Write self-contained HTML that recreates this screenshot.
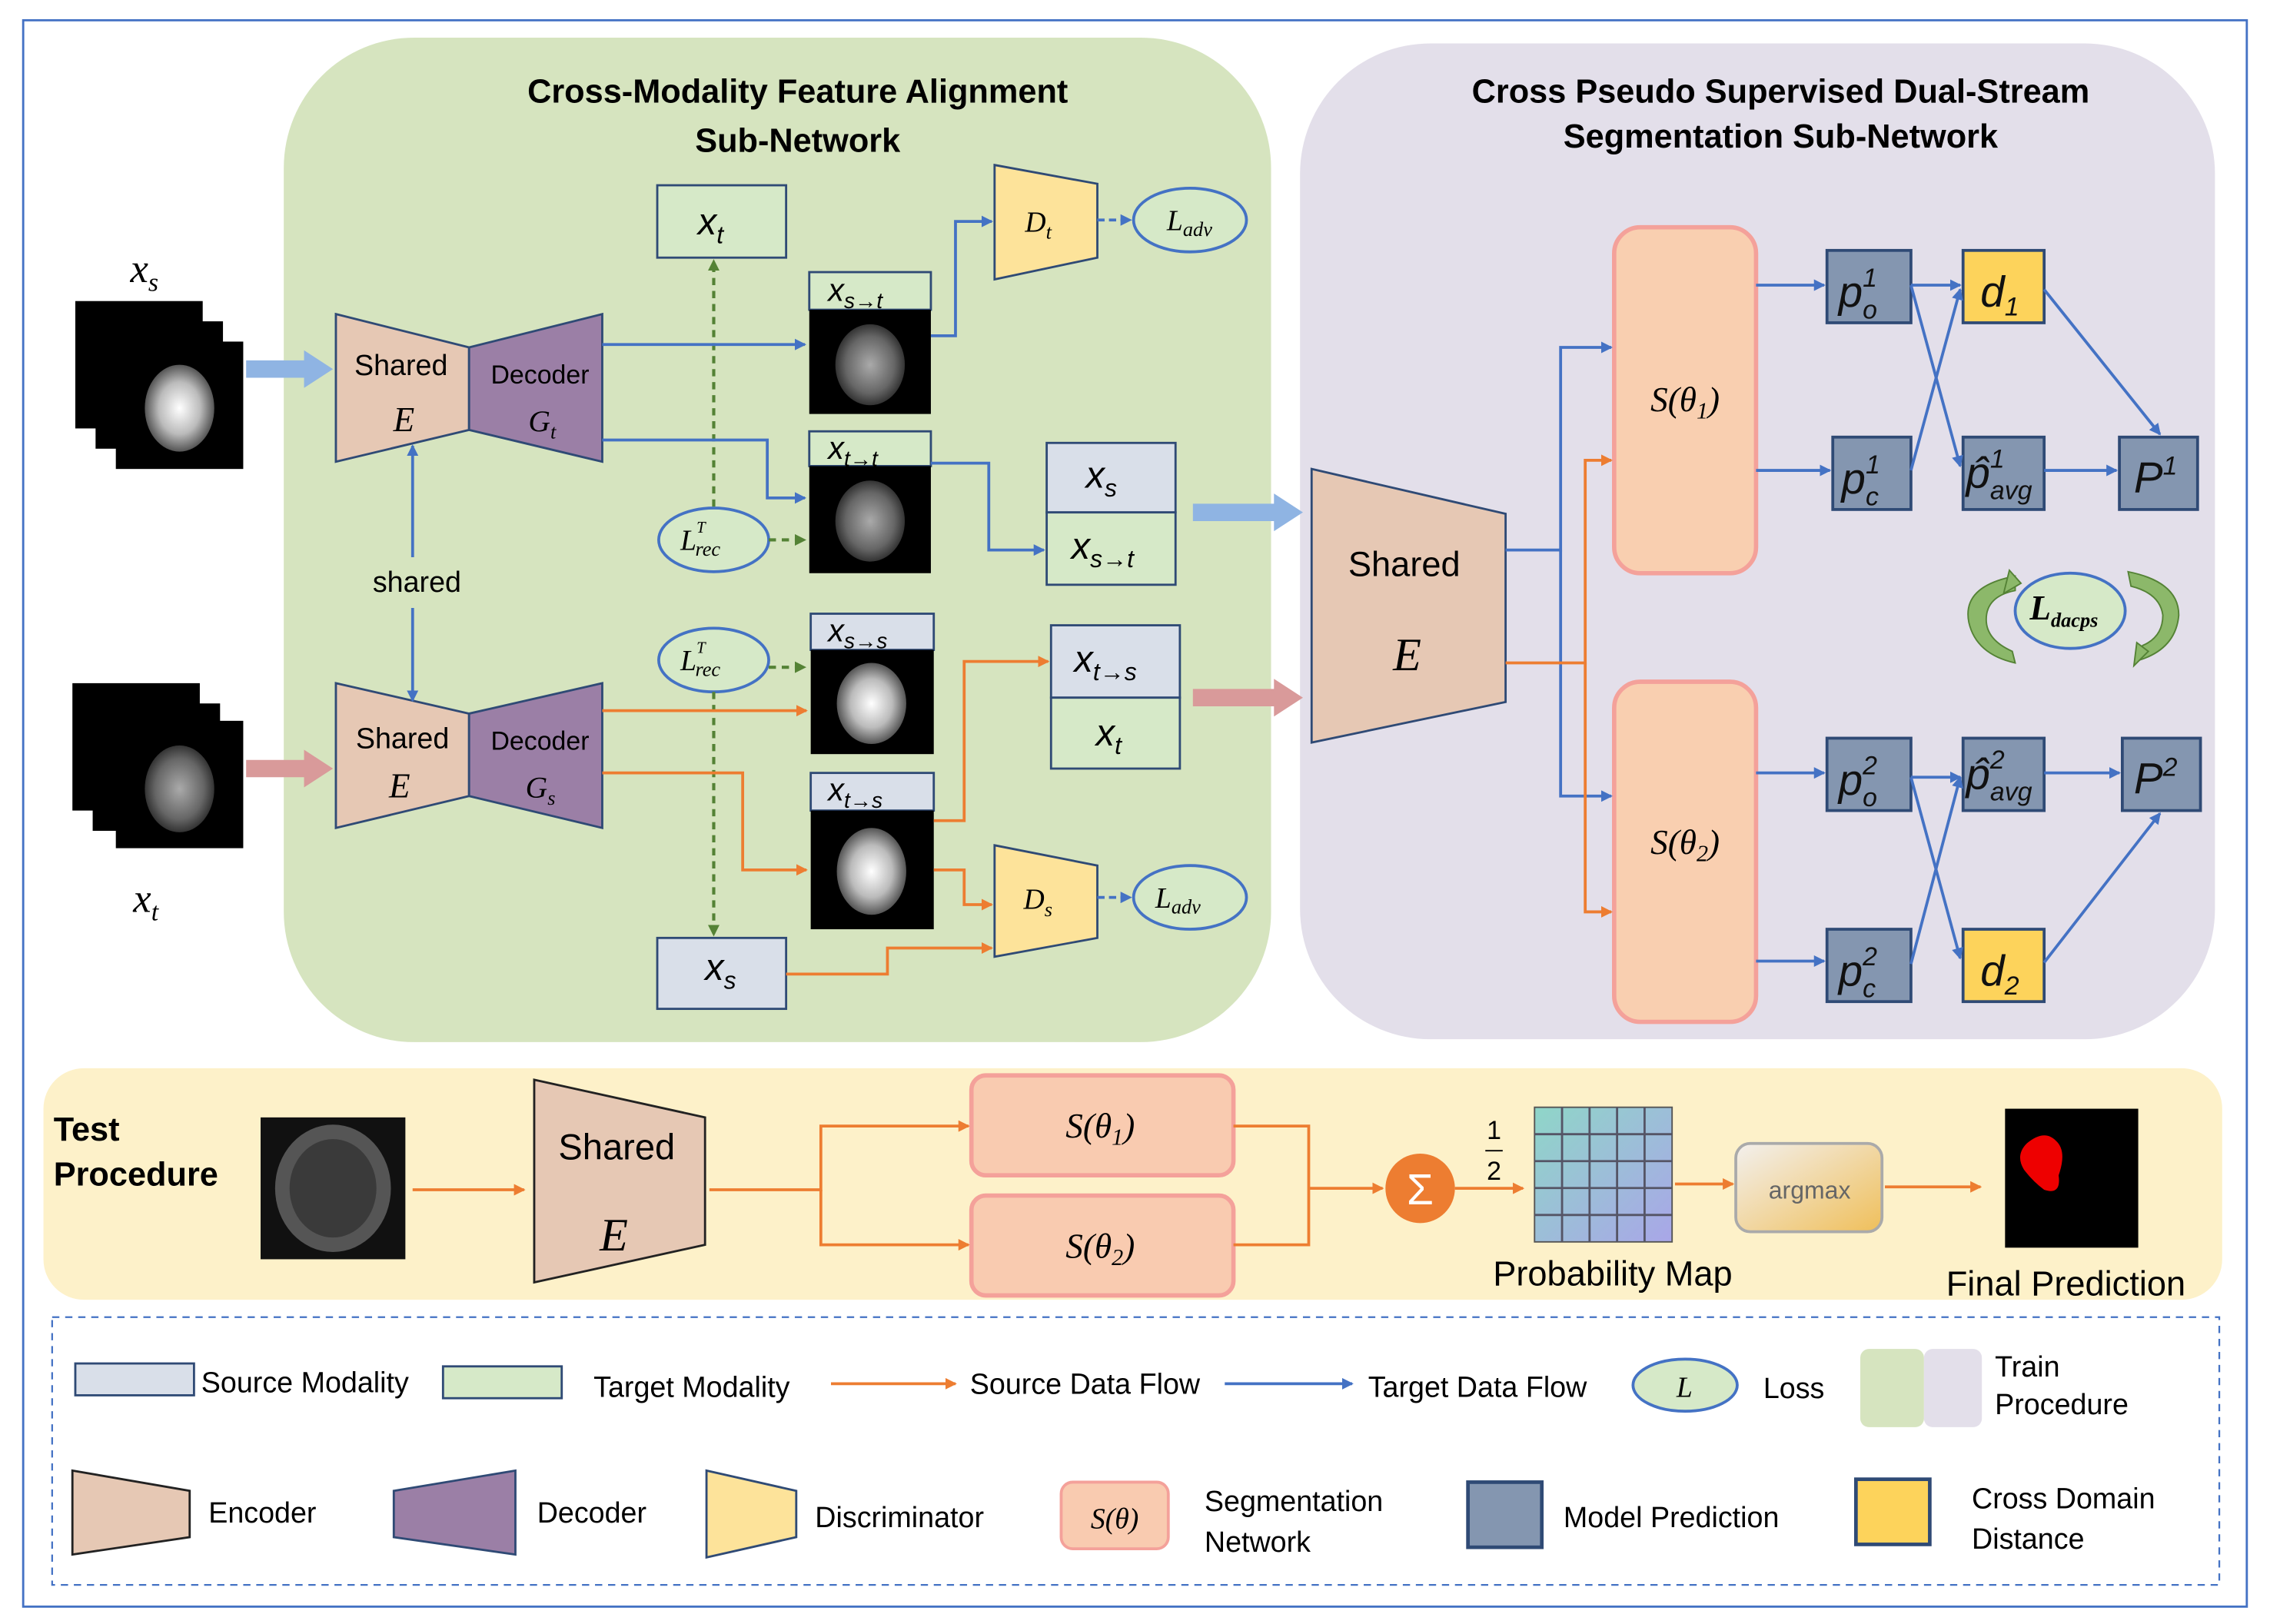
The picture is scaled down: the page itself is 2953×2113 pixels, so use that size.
<!DOCTYPE html>
<html><head><meta charset="utf-8"><style>
html,body{margin:0;padding:0;background:#fff}
svg{display:block}
text{font-family:"Liberation Sans",sans-serif}
.m{font-family:"Liberation Serif",serif;font-style:italic}
.b{font-weight:bold}
</style></head><body>
<svg width="2953" height="2113" viewBox="0 0 1568 1122" xmlns="http://www.w3.org/2000/svg">
<defs>
<marker id="ab" markerWidth="8" markerHeight="8" refX="7" refY="4" orient="auto" markerUnits="userSpaceOnUse"><path d="M0,0 L8,4 L0,8 z" fill="#4472c4"/></marker>
<marker id="ao" markerWidth="8" markerHeight="8" refX="7" refY="4" orient="auto" markerUnits="userSpaceOnUse"><path d="M0,0 L8,4 L0,8 z" fill="#ed7d31"/></marker>
<marker id="ag" markerWidth="8" markerHeight="8" refX="7" refY="4" orient="auto" markerUnits="userSpaceOnUse"><path d="M0,0 L8,4 L0,8 z" fill="#548235"/></marker>
<radialGradient id="br"><stop offset="0" stop-color="#fff"/><stop offset="0.6" stop-color="#bbb"/><stop offset="1" stop-color="#555"/></radialGradient>
<radialGradient id="br2"><stop offset="0" stop-color="#aaa"/><stop offset="0.7" stop-color="#666"/><stop offset="1" stop-color="#333"/></radialGradient>
<linearGradient id="am" x1="0" y1="0" x2="1" y2="1"><stop offset="0" stop-color="#f3f0ee"/><stop offset="1" stop-color="#efbf5a"/></linearGradient>
<linearGradient id="gr" x1="0" y1="0" x2="1" y2="1"><stop offset="0" stop-color="#8fd6c8"/><stop offset="1" stop-color="#a9a6e8"/></linearGradient>
</defs>
<rect x="16" y="14" width="1536" height="1096" fill="none" stroke="#4472c4" stroke-width="1.5"/>
<rect x="196" y="26" width="682" height="694" rx="90" fill="#d6e4bf"/>
<rect x="898" y="30" width="632" height="688" rx="90" fill="#e3dfea"/>
<rect x="30" y="738" width="1505" height="160" rx="28" fill="#fdf1c9"/>
<rect x="36" y="910" width="1497" height="185" fill="none" stroke="#4472c4" stroke-dasharray="5,4" stroke-width="1.2"/>

<text x="551" y="71" text-anchor="middle" class="b" font-size="23">Cross-Modality Feature Alignment</text>
<text x="551" y="105" text-anchor="middle" class="b" font-size="23">Sub-Network</text>
<text x="1230" y="71" text-anchor="middle" class="b" font-size="23">Cross Pseudo Supervised Dual-Stream</text>
<text x="1230" y="102" text-anchor="middle" class="b" font-size="23">Segmentation Sub-Network</text>

<!-- input stacks -->
<g><rect x="52" y="208" width="88" height="88"/><rect x="66" y="222" width="88" height="88"/><rect x="80" y="236" width="88" height="88"/><ellipse cx="124" cy="282" rx="24" ry="30" fill="url(#br)"/></g>
<text x="90" y="195" class="m" font-size="28">x<tspan font-size="18" dy="6">s</tspan></text>
<g><rect x="50" y="472" width="88" height="88"/><rect x="64" y="486" width="88" height="88"/><rect x="80" y="498" width="88" height="88"/><ellipse cx="124" cy="545" rx="24" ry="30" fill="url(#br2)"/></g>
<text x="92" y="630" class="m" font-size="28">x<tspan font-size="18" dy="6">t</tspan></text>

<path d="M170,255 H212" stroke="#8fb4e3" stroke-width="12"/><path d="M210,242 L230,255 L210,268z" fill="#8fb4e3"/>
<path d="M170,531 H212" stroke="#d99a9a" stroke-width="12"/><path d="M210,518 L230,531 L210,544z" fill="#d99a9a"/>

<!-- encoders/decoders left -->
<polygon points="232,217 324,240 324,297 232,319" fill="#e6c8b4" stroke="#2f4a75" stroke-width="1.5"/>
<polygon points="324,240 416,217 416,319 324,297" fill="#9b7fa6" stroke="#2f4a75" stroke-width="1.5"/>
<text x="277" y="259" text-anchor="middle" font-size="20">Shared</text>
<text x="279" y="298" text-anchor="middle" class="m" font-size="24">E</text>
<text x="373" y="265" text-anchor="middle" font-size="18">Decoder</text>
<text x="365" y="298" class="m" font-size="21">G<tspan font-size="14" dy="5">t</tspan></text>
<polygon points="232,472 324,493 324,550 232,572" fill="#e6c8b4" stroke="#2f4a75" stroke-width="1.5"/>
<polygon points="324,493 416,472 416,572 324,550" fill="#9b7fa6" stroke="#2f4a75" stroke-width="1.5"/>
<text x="278" y="517" text-anchor="middle" font-size="20">Shared</text>
<text x="276" y="551" text-anchor="middle" class="m" font-size="24">E</text>
<text x="373" y="518" text-anchor="middle" font-size="18">Decoder</text>
<text x="363" y="551" class="m" font-size="21">G<tspan font-size="14" dy="5">s</tspan></text>
<text x="288" y="409" text-anchor="middle" font-size="20">shared</text>
<path d="M285,385 V308" stroke="#4472c4" stroke-width="2" marker-end="url(#ab)"/>
<path d="M285,420 V484" stroke="#4472c4" stroke-width="2" marker-end="url(#ab)"/>

<!-- boxes -->
<g stroke="#2f4a75" stroke-width="1.5">
<rect x="454" y="128" width="89" height="50" fill="#d6e9c8"/>
<rect x="559" y="188" width="84" height="26" fill="#d6e9c8"/>
<rect x="559" y="298" width="84" height="24" fill="#d6e9c8"/>
<rect x="723" y="306" width="89" height="48" fill="#d9dfe9"/>
<rect x="723" y="354" width="89" height="50" fill="#d6e9c8"/>
<rect x="560" y="424" width="85" height="25" fill="#d9dfe9"/>
<rect x="560" y="534" width="85" height="26" fill="#d9dfe9"/>
<rect x="726" y="432" width="89" height="50" fill="#d9dfe9"/>
<rect x="726" y="482" width="89" height="49" fill="#d6e9c8"/>
<rect x="454" y="648" width="89" height="49" fill="#d9dfe9"/>
</g>
<rect x="559" y="214" width="84" height="72"/><ellipse cx="601" cy="252" rx="24" ry="28" fill="url(#br2)"/>
<rect x="559" y="322" width="84" height="74"/><ellipse cx="601" cy="360" rx="24" ry="28" fill="url(#br2)"/>
<rect x="560" y="449" width="85" height="72"/><ellipse cx="602" cy="486" rx="24" ry="28" fill="url(#br)"/>
<rect x="560" y="560" width="85" height="82"/><ellipse cx="602" cy="602" rx="24" ry="30" fill="url(#br)"/>
<g class="m" font-size="26">
<text x="482" y="162">x<tspan font-size="17" dy="6">t</tspan></text>
<text x="572" y="208" font-size="22">x<tspan font-size="15" dy="5">s→t</tspan></text>
<text x="572" y="317" font-size="22">x<tspan font-size="15" dy="5">t→t</tspan></text>
<text x="750" y="337">x<tspan font-size="17" dy="6">s</tspan></text>
<text x="740" y="386">x<tspan font-size="17" dy="6">s→t</tspan></text>
<text x="572" y="443" font-size="22">x<tspan font-size="15" dy="5">s→s</tspan></text>
<text x="572" y="553" font-size="22">x<tspan font-size="15" dy="5">t→s</tspan></text>
<text x="742" y="464">x<tspan font-size="17" dy="6">t→s</tspan></text>
<text x="757" y="515">x<tspan font-size="17" dy="6">t</tspan></text>
<text x="487" y="677">x<tspan font-size="17" dy="6">s</tspan></text>
</g>

<!-- discriminators -->
<polygon points="687,114 758,127 758,178 687,193" fill="#fde39a" stroke="#2f4a75" stroke-width="1.5"/>
<text x="708" y="160" class="m" font-size="20">D<tspan font-size="14" dy="5">t</tspan></text>
<polygon points="687,584 758,598 758,648 687,661" fill="#fde39a" stroke="#2f4a75" stroke-width="1.5"/>
<text x="707" y="628" class="m" font-size="20">D<tspan font-size="14" dy="5">s</tspan></text>
<g fill="#d6e9c8" stroke="#4472c4" stroke-width="2">
<ellipse cx="822" cy="152" rx="39" ry="22"/><ellipse cx="822" cy="620" rx="39" ry="22"/>
<ellipse cx="493" cy="373" rx="38" ry="22"/><ellipse cx="493" cy="456" rx="38" ry="22"/>
</g>
<text x="806" y="159" class="m" font-size="20">L<tspan font-size="14" dy="4">adv</tspan></text>
<text x="798" y="627" class="m" font-size="20">L<tspan font-size="14" dy="4">adv</tspan></text>
<text x="470" y="380" class="m" font-size="20">L<tspan font-size="11" dy="-12">T</tspan><tspan font-size="14" dx="-7" dy="16">rec</tspan></text>
<text x="470" y="463" class="m" font-size="20">L<tspan font-size="11" dy="-12">T</tspan><tspan font-size="14" dx="-7" dy="16">rec</tspan></text>

<!-- green dashed -->
<g stroke="#548235" stroke-width="2.2" stroke-dasharray="5,4" fill="none">
<path d="M493,350 V180" marker-end="url(#ag)"/>
<path d="M493,478 V646" marker-end="url(#ag)"/>
<path d="M531,373 H556" marker-end="url(#ag)"/>
<path d="M531,461 H556" marker-end="url(#ag)"/>
</g>

<!-- blue lines left -->
<g stroke="#4472c4" stroke-width="2" fill="none">
<path d="M416,238 H556" marker-end="url(#ab)"/>
<path d="M416,304 H530 V344 H556" marker-end="url(#ab)"/>
<path d="M643,232 H660 V153 H685" marker-end="url(#ab)"/>
<path d="M758,152 H781" stroke-dasharray="5,3" marker-end="url(#ab)"/>
<path d="M643,320 H683 V380 H721" marker-end="url(#ab)"/>
<path d="M758,620 H781" stroke-dasharray="5,3" marker-end="url(#ab)"/>
</g>
<g stroke="#ed7d31" stroke-width="2" fill="none">
<path d="M416,491 H557" marker-end="url(#ao)"/>
<path d="M416,534 H513 V601 H557" marker-end="url(#ao)"/>
<path d="M645,567 H666 V457 H724" marker-end="url(#ao)"/>
<path d="M645,601 H666 V625 H685" marker-end="url(#ao)"/>
<path d="M543,673 H613 V655 H685" marker-end="url(#ao)"/>
</g>
<path d="M824,354 H882" stroke="#8fb4e3" stroke-width="12"/><path d="M880,341 L900,354 L880,367z" fill="#8fb4e3"/>
<path d="M824,482 H882" stroke="#d99a9a" stroke-width="12"/><path d="M880,469 L900,482 L880,495z" fill="#d99a9a"/>

<!-- right panel -->
<polygon points="906,324 1040,355 1040,485 906,513" fill="#e6c8b4" stroke="#2f4a75" stroke-width="1.5"/>
<text x="970" y="398" text-anchor="middle" font-size="24">Shared</text>
<text x="972" y="463" text-anchor="middle" class="m" font-size="32">E</text>
<rect x="1115" y="157" width="98" height="239" rx="18" fill="#f9cfb0" stroke="#f4a19a" stroke-width="3"/>
<rect x="1115" y="471" width="98" height="235" rx="18" fill="#f9cfb0" stroke="#f4a19a" stroke-width="3"/>
<text x="1164" y="284" text-anchor="middle" class="m" font-size="24">S(θ<tspan font-size="16" dy="5">1</tspan><tspan dy="-5">)</tspan></text>
<text x="1164" y="590" text-anchor="middle" class="m" font-size="24">S(θ<tspan font-size="16" dy="5">2</tspan><tspan dy="-5">)</tspan></text>
<g stroke="#4472c4" stroke-width="2" fill="none">
<path d="M1040,380 H1078 V240 H1113" marker-end="url(#ab)"/>
<path d="M1078,380 V550 H1113" marker-end="url(#ab)"/>
</g>
<g stroke="#ed7d31" stroke-width="2" fill="none">
<path d="M1040,458 H1095 V318 H1113" marker-end="url(#ao)"/>
<path d="M1095,458 V630 H1113" marker-end="url(#ao)"/>
</g>
<g stroke="#2f4a75" stroke-width="2">
<rect x="1262" y="173" width="58" height="50" fill="#8496b0"/>
<rect x="1356" y="173" width="56" height="50" fill="#fdd35b"/>
<rect x="1266" y="302" width="54" height="50" fill="#8496b0"/>
<rect x="1356" y="302" width="56" height="50" fill="#8496b0"/>
<rect x="1464" y="302" width="54" height="50" fill="#8496b0"/>
<rect x="1262" y="510" width="58" height="50" fill="#8496b0"/>
<rect x="1356" y="510" width="56" height="50" fill="#8496b0"/>
<rect x="1466" y="510" width="54" height="50" fill="#8496b0"/>
<rect x="1262" y="642" width="58" height="50" fill="#8496b0"/>
<rect x="1356" y="642" width="56" height="50" fill="#fdd35b"/>
</g>
<g class="m" font-size="30" fill="#111">
<text x="1270" y="212">p<tspan font-size="18" dy="-14">1</tspan><tspan font-size="18" dx="-10" dy="22">o</tspan></text>
<text x="1368" y="212">d<tspan font-size="18" dy="6">1</tspan></text>
<text x="1272" y="341">p<tspan font-size="18" dy="-14">1</tspan><tspan font-size="18" dx="-10" dy="22">c</tspan></text>
<text x="1358" y="337">p̂<tspan font-size="18" dy="-14">1</tspan><tspan font-size="18" dx="-10" dy="22">avg</tspan></text>
<text x="1474" y="340">P<tspan font-size="18" dy="-12">1</tspan></text>
<text x="1270" y="549">p<tspan font-size="18" dy="-14">2</tspan><tspan font-size="18" dx="-10" dy="22">o</tspan></text>
<text x="1358" y="545">p̂<tspan font-size="18" dy="-14">2</tspan><tspan font-size="18" dx="-10" dy="22">avg</tspan></text>
<text x="1474" y="548">P<tspan font-size="18" dy="-12">2</tspan></text>
<text x="1270" y="681">p<tspan font-size="18" dy="-14">2</tspan><tspan font-size="18" dx="-10" dy="22">c</tspan></text>
<text x="1368" y="681">d<tspan font-size="18" dy="6">2</tspan></text>
</g>
<g stroke="#4472c4" stroke-width="2" fill="none">
<path d="M1213,197 H1260" marker-end="url(#ab)"/>
<path d="M1213,325 H1264" marker-end="url(#ab)"/>
<path d="M1320,197 H1354" marker-end="url(#ab)"/>
<path d="M1320,197 L1354,322" marker-end="url(#ab)"/>
<path d="M1320,325 L1354,200" marker-end="url(#ab)"/>
<path d="M1412,325 H1462" marker-end="url(#ab)"/>
<path d="M1412,200 L1492,300" marker-end="url(#ab)"/>
<path d="M1213,534 H1260" marker-end="url(#ab)"/>
<path d="M1213,664 H1260" marker-end="url(#ab)"/>
<path d="M1320,537 L1354,662" marker-end="url(#ab)"/>
<path d="M1320,666 L1354,537" marker-end="url(#ab)"/>
<path d="M1320,537 H1354" marker-end="url(#ab)"/>
<path d="M1412,534 H1464" marker-end="url(#ab)"/>
<path d="M1412,665 L1492,562" marker-end="url(#ab)"/>
</g>
<ellipse cx="1430" cy="422" rx="38" ry="26" fill="#d6e9c8" stroke="#4472c4" stroke-width="2"/>
<text x="1402" y="428" class="m b" font-size="24">L<tspan font-size="14" dy="5">dacps</tspan></text>
<path d="M1392,398 Q1355,405 1360,430 Q1365,452 1392,458 L1390,450 Q1372,442 1372,428 Q1372,412 1392,408z" fill="#8cb86a" stroke="#548235"/>
<path d="M1388,394 L1396,403 L1384,410z" fill="#8cb86a" stroke="#548235"/>
<path d="M1470,395 Q1505,402 1505,425 Q1503,448 1478,456 L1480,446 Q1494,440 1494,425 Q1492,410 1472,405z" fill="#8cb86a" stroke="#548235"/>
<path d="M1484,450 L1474,460 L1476,444z" fill="#8cb86a" stroke="#548235"/>

<!-- test procedure -->
<text x="37" y="788" class="b" font-size="23">Test</text>
<text x="37" y="819" class="b" font-size="23">Procedure</text>
<rect x="180" y="772" width="100" height="98" fill="#111"/>
<ellipse cx="230" cy="821" rx="40" ry="44" fill="#555"/><ellipse cx="230" cy="821" rx="30" ry="34" fill="#3a3a3a"/>
<polygon points="369,746 487,772 487,860 369,886" fill="#e6c8b4" stroke="#222" stroke-width="1.5"/>
<text x="426" y="801" text-anchor="middle" font-size="25">Shared</text>
<text x="424" y="864" text-anchor="middle" class="m" font-size="32">E</text>
<rect x="671" y="743" width="181" height="69" rx="10" fill="#f9cbb0" stroke="#f4a19a" stroke-width="3"/>
<rect x="671" y="826" width="181" height="69" rx="10" fill="#f9cbb0" stroke="#f4a19a" stroke-width="3"/>
<text x="760" y="786" text-anchor="middle" class="m" font-size="24">S(θ<tspan font-size="16" dy="5">1</tspan><tspan dy="-5">)</tspan></text>
<text x="760" y="869" text-anchor="middle" class="m" font-size="24">S(θ<tspan font-size="16" dy="5">2</tspan><tspan dy="-5">)</tspan></text>
<g stroke="#ed7d31" stroke-width="2" fill="none">
<path d="M285,822 H362" marker-end="url(#ao)"/>
<path d="M490,822 H567 V778 H669" marker-end="url(#ao)"/>
<path d="M567,822 V860 H669" marker-end="url(#ao)"/>
<path d="M852,778 H904 V860 H852"/>
<path d="M904,821 H955" marker-end="url(#ao)"/>
<path d="M1005,821 H1052" marker-end="url(#ao)"/>
<path d="M1157,818 H1197" marker-end="url(#ao)"/>
<path d="M1302,820 H1368" marker-end="url(#ao)"/>
</g>
<circle cx="981" cy="821" r="24" fill="#ed7d31"/>
<text x="981" y="832" text-anchor="middle" fill="#fff" font-size="30">Σ</text>
<text x="1032" y="787" text-anchor="middle" font-size="18">1</text>
<path d="M1026,795 H1038" stroke="#000"/>
<text x="1032" y="815" text-anchor="middle" font-size="18">2</text>
<g>
<rect x="1060" y="765" width="95" height="93" fill="url(#gr)" stroke="#555"/>
<path d="M1079,765V858M1098,765V858M1117,765V858M1136,765V858M1060,783.6H1155M1060,802.2H1155M1060,820.8H1155M1060,839.4H1155" stroke="#556" stroke-width="1.5"/>
</g>
<text x="1114" y="888" text-anchor="middle" font-size="24">Probability Map</text>
<rect x="1199" y="790" width="101" height="61" rx="10" fill="url(#am)" stroke="#aaa" stroke-width="2"/>
<text x="1250" y="828" text-anchor="middle" font-size="17" fill="#666">argmax</text>
<rect x="1385" y="766" width="92" height="96" fill="#000"/>
<path d="M1400,790 Q1412,780 1420,788 Q1428,795 1422,812 Q1424,826 1412,822 Q1404,816 1398,808 Q1392,798 1400,790z" fill="#e00"/>
<text x="1427" y="895" text-anchor="middle" font-size="24">Final Prediction</text>

<!-- legend -->
<rect x="52" y="942" width="82" height="22" fill="#d9dfe9" stroke="#2f4a75" stroke-width="1.5"/>
<text x="139" y="962" font-size="20">Source Modality</text>
<rect x="306" y="944" width="82" height="22" fill="#d6e9c8" stroke="#2f4a75" stroke-width="1.5"/>
<text x="410" y="965" font-size="20">Target Modality</text>
<path d="M574,956 H660" stroke="#ed7d31" stroke-width="2" marker-end="url(#ao)"/>
<text x="670" y="963" font-size="20">Source Data Flow</text>
<path d="M846,956 H934" stroke="#4472c4" stroke-width="2" marker-end="url(#ab)"/>
<text x="945" y="965" font-size="20">Target Data Flow</text>
<ellipse cx="1164" cy="957" rx="36" ry="18" fill="#d6e9c8" stroke="#4472c4" stroke-width="2"/>
<text x="1158" y="965" class="m" font-size="20">L</text>
<text x="1218" y="966" font-size="20">Loss</text>
<rect x="1285" y="932" width="44" height="54" rx="6" fill="#d6e4bf"/>
<rect x="1329" y="932" width="40" height="54" rx="6" fill="#e3dfea"/>
<text x="1378" y="951" font-size="20">Train</text>
<text x="1378" y="977" font-size="20">Procedure</text>
<polygon points="50,1016 131,1030 131,1062 50,1074" fill="#e6c8b4" stroke="#222" stroke-width="1.5"/>
<text x="144" y="1052" font-size="20">Encoder</text>
<polygon points="272,1030 356,1016 356,1074 272,1062" fill="#9b7fa6" stroke="#2f4a75" stroke-width="1.5"/>
<text x="371" y="1052" font-size="20">Decoder</text>
<polygon points="488,1016 550,1030 550,1062 488,1076" fill="#fde39a" stroke="#2f4a75" stroke-width="1.5"/>
<text x="563" y="1055" font-size="20">Discriminator</text>
<rect x="733" y="1024" width="74" height="46" rx="8" fill="#f9cbb0" stroke="#f4a19a" stroke-width="2"/>
<text x="770" y="1056" text-anchor="middle" class="m" font-size="20">S(θ)</text>
<text x="832" y="1044" font-size="20">Segmentation</text>
<text x="832" y="1072" font-size="20">Network</text>
<rect x="1014" y="1024" width="51" height="45" fill="#8496b0" stroke="#2f4a75" stroke-width="2.5"/>
<text x="1080" y="1055" font-size="20">Model Prediction</text>
<rect x="1282" y="1022" width="51" height="45" fill="#fdd35b" stroke="#2f4a75" stroke-width="2.5"/>
<text x="1362" y="1042" font-size="20">Cross Domain</text>
<text x="1362" y="1070" font-size="20">Distance</text>
</svg>
</body></html>
